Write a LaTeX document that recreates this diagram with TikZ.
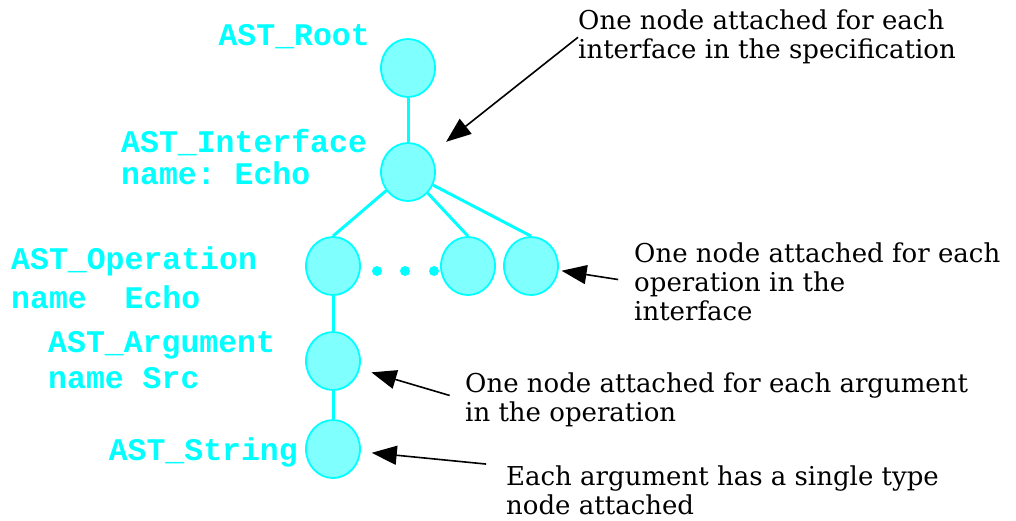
\documentclass[tikz,border=0pt]{standalone}
\usepackage{fontspec}
\setmainfont{DejaVu Serif}
\setmonofont{Liberation Mono}
\usetikzlibrary{shapes.geometric, arrows.meta, positioning}
\definecolor{astcyan}{RGB}{0,255,255}
\definecolor{astfill}{RGB}{128,255,255}

\begin{document}
\begin{tikzpicture} [x = 1pt, y = -1pt, on grid,
    astnode/.style = {ellipse, draw = astcyan, fill = astfill, line width = 1.8pt,
                      minimum width = 54pt, minimum height = 58pt, inner sep = 0pt},
    astlabel/.style = {text = astcyan, align = left, inner sep = 0pt,
                       font = \ttfamily\bfseries\fontsize{31.5}{32}\selectfont},
    note/.style = {align = left, inner sep = 0pt, font = \fontsize{26}{29}\selectfont},
    branch/.style = {draw = astcyan, line width = 3pt},
    pointer/.style = {-{Triangle[length=25pt, width=19pt]}, line width = 1.6pt}]

\useasboundingbox (0,0) rectangle (1016,520);

% tree
\node (root) [astnode] at (408,68) {};
\node (iface) [astnode, below = 104pt of root] {};
\node (op1) [astnode] at (333,266) {};
\node (op2) [astnode, right = 135pt of op1] {};
\node (op3) [astnode, right = 63pt of op2] {};
\node (arg) [astnode, below = 95pt of op1] {};
\node (str) [astnode, below = 88pt of arg] {};

\foreach \x in {377,405,434}
    \fill [astcyan] (\x,271) circle (5pt);

\path [branch] (root) -- (iface);
\path [branch] (iface) -- (op1.north);
\path [branch] (iface) -- (op2.north);
\path [branch] (iface) -- (op3.north);
\path [branch] (op1) -- (arg);
\path [branch] (arg) -- (str);

% labels
\node (rootlbl) [astlabel, anchor = east] at (370,37) {AST\_Root};
\node (ifacelbl) [astlabel, anchor = west] at (121,157) {AST\_Interface\\name: Echo};
\node (oplbl) [astlabel, anchor = west] at (11,278) {AST\_Operation\\[7pt]name~~Echo};
\node (arglbl) [astlabel, anchor = west] at (48,360) {AST\_Argument\\[4pt]name Src};
\node (strlbl) [astlabel, anchor = east] at (298,452) {AST\_String};

% notes
\node (ifacenote) [note, anchor = north west] at (578,10)
    {One node attached for each\\interface in the specification};
\node (opnote) [note, anchor = west] at (634,282)
    {One node attached for each\\operation in the\\interface};
\node (argnote) [note, anchor = west] at (465,400)
    {One node attached for each argument\\in the operation};
\node (strnote) [note, anchor = north west] at (506,466)
    {Each argument has a single type\\node attached};

\draw [pointer, shorten > = 20pt] (ifacenote.west) -- (iface);
\draw [pointer, shorten < = 16pt, shorten > = 3pt] (opnote.west) -- (op3);
\draw [pointer, shorten < = 16pt, shorten > = 12pt] (argnote.west) -- (arg);
\draw [pointer, shorten < = 20pt, shorten > = 11pt] (strnote.north west) -- (str);
\end{tikzpicture}
\end{document}
